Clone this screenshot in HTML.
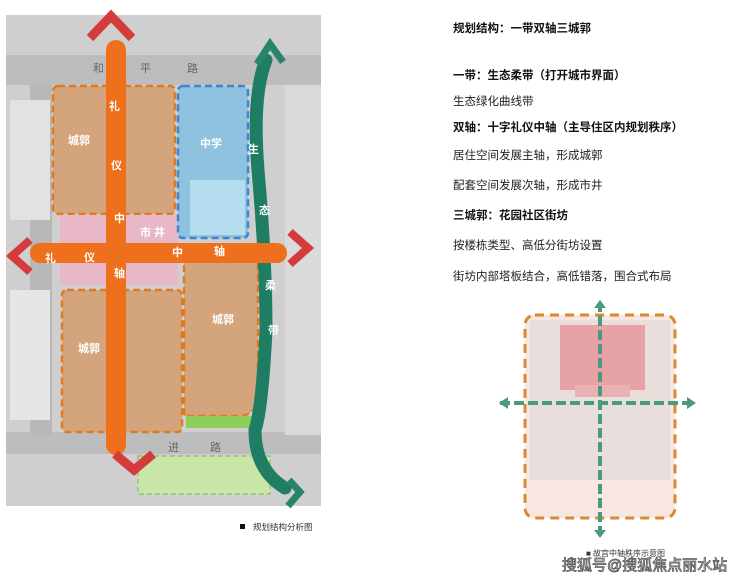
<!DOCTYPE html>
<html><head><meta charset="utf-8"><style>
body{margin:0;width:740px;height:579px;background:#fff;overflow:hidden;position:relative;font-family:"Liberation Sans","Noto Sans CJK SC",sans-serif}
.t{position:absolute;left:453px;font-size:11.5px;color:#222;white-space:nowrap}
.b{font-weight:bold;color:#111}
</style></head><body>
<svg width="740" height="579" style="position:absolute;left:0;top:0" font-family="Liberation Sans, Noto Sans CJK SC, sans-serif">
<rect x="6" y="15" width="315" height="491" fill="#cfcfcf"/>
<rect x="6" y="55" width="315" height="30" fill="#bdbdbd"/>
<rect x="6" y="432" width="315" height="22" fill="#bdbdbd"/>
<rect x="30" y="85" width="22" height="350" fill="#b8b8b8"/>
<rect x="285" y="85" width="36" height="350" fill="#dadada"/>
<rect x="10" y="100" width="40" height="120" fill="#e2e2e2"/>
<rect x="10" y="290" width="40" height="130" fill="#e6e6e6"/>
<text x="93" y="72" font-size="11" fill="#666">和</text><text x="140" y="72" font-size="11" fill="#666">平</text><text x="187" y="72" font-size="11" fill="#666">路</text>
<text x="112" y="452" font-size="11" fill="#666">迎</text><text x="168" y="451" font-size="11" fill="#666">进</text><text x="210" y="451" font-size="11" fill="#666">路</text>
<rect x="53" y="86" width="122" height="128" rx="5" fill="#d4a57c" stroke="#e07a1f" stroke-width="2.5" stroke-dasharray="7,4"/>
<rect x="60" y="215" width="118" height="70" fill="#e8b7c8"/>
<rect x="62" y="290" width="120" height="142" rx="5" fill="#d4a57c" stroke="#e07a1f" stroke-width="2.5" stroke-dasharray="7,4"/>
<rect x="178" y="86" width="70" height="152" rx="5" fill="#8ec2de" stroke="#3a86d0" stroke-width="2.5" stroke-dasharray="7,4"/>
<rect x="190" y="180" width="55" height="55" fill="#b6dcf0"/>
<path d="M184 260 H258 V400 Q255 415 240 416 H184 Z" fill="#d4a57c" stroke="#e07a1f" stroke-width="2.5" stroke-dasharray="7,4"/>
<path d="M186 416 H252 L262 412 L260 428 H186 Z" fill="#8dcf5a"/>
<rect x="138" y="456" width="132" height="38" fill="#c9e5a8" stroke="#7bb84a" stroke-dasharray="5,3"/>
<path d="M266 60 Q252 95 258 170 Q266 260 266 330 Q262 410 255 430 Q255 470 285 488" fill="none" stroke="#1e7d62" stroke-width="13" stroke-linecap="round"/>
<path d="M257 64 L270 44 L283 62" fill="none" stroke="#26856a" stroke-width="7"/>
<path d="M289 480 L300 492 L288 506" fill="none" stroke="#26856a" stroke-width="7"/>
<rect x="106" y="40" width="20" height="415" rx="10" fill="#ee6f1c"/>
<rect x="30" y="243" width="257" height="20" rx="10" fill="#ee6f1c"/>
<path d="M90 38 L111 16 L132 38" fill="none" stroke="#d43c3c" stroke-width="9"/>
<path d="M115 454 L134 470 L153 454" fill="none" stroke="#d43c3c" stroke-width="9"/>
<path d="M30 240 L12 256 L30 272" fill="none" stroke="#d43c3c" stroke-width="8"/>
<path d="M290 232 L308 248 L290 264" fill="none" stroke="#d43c3c" stroke-width="8"/>
<g fill="#fff" font-size="11" font-weight="bold">
<text x="109" y="110">礼</text><text x="111" y="169">仪</text><text x="114" y="222">中</text><text x="114" y="277">轴</text>
<text x="45" y="262">礼</text><text x="84" y="261">仪</text><text x="172" y="256">中</text><text x="214" y="255">轴</text>
<text x="68" y="144">城郭</text><text x="140" y="236">市 井</text><text x="200" y="147">中学</text>
<text x="78" y="352">城郭</text><text x="212" y="323">城郭</text>
<text x="248" y="153">生</text><text x="259" y="214">态</text><text x="265" y="289">柔</text><text x="268" y="334">带</text>
</g>
<rect x="240" y="524" width="5" height="5" fill="#111"/>
<text x="253" y="530" font-size="8.5" fill="#333">规划结构分析图</text>
<rect x="525" y="315" width="150" height="203" rx="10" fill="#f7e6e2" stroke="#d88a2e" stroke-width="3" stroke-dasharray="9,6"/>
<rect x="530" y="320" width="140" height="160" fill="#e8dfdc"/>
<rect x="560" y="325" width="85" height="65" fill="#e7a2a6"/>
<rect x="575" y="385" width="55" height="12" fill="#eab0b2"/>
<line x1="500" y1="403" x2="695" y2="403" stroke="#4a9a7f" stroke-width="4" stroke-dasharray="10,4"/>
<path d="M508 397 L499 403 L508 409 Z M687 397 L696 403 L687 409 Z" fill="#4a9a7f"/>
<line x1="600" y1="302" x2="600" y2="535" stroke="#4a9a7f" stroke-width="4" stroke-dasharray="10,4"/>
<path d="M594 308 L600 300 L606 308 Z M594 530 L600 538 L606 530 Z" fill="#4a9a7f"/>
<text x="586" y="556" font-size="8" fill="#333">■ 故宫中轴秩序示意图</text>
<text x="562" y="570" font-size="15" fill="#fff" stroke="#555" stroke-width="0.8">搜狐号@搜狐焦点丽水站</text>
</svg>
<div class="t b" style="top:20px">规划结构：一带双轴三城郭</div>
<div class="t b" style="top:67px">一带：生态柔带（打开城市界面）</div>
<div class="t" style="top:93px">生态绿化曲线带</div>
<div class="t b" style="top:119px">双轴：十字礼仪中轴（主导住区内规划秩序）</div>
<div class="t" style="top:147px">居住空间发展主轴，形成城郭</div>
<div class="t" style="top:177px">配套空间发展次轴，形成市井</div>
<div class="t b" style="top:207px">三城郭：花园社区街坊</div>
<div class="t" style="top:237px">按楼栋类型、高低分街坊设置</div>
<div class="t" style="top:268px">街坊内部塔板结合，高低错落，围合式布局</div>
</body></html>
